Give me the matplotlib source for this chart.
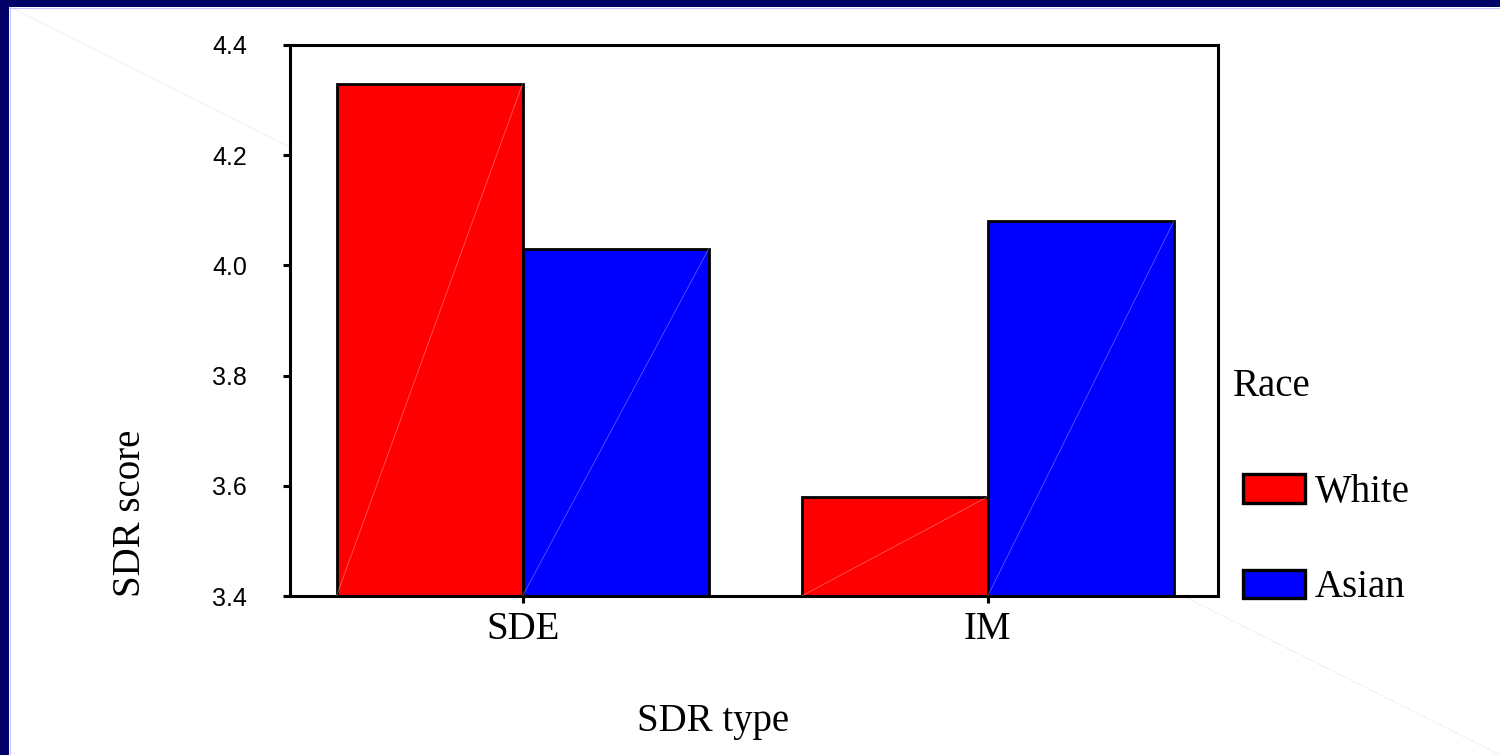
import numpy as np
import matplotlib
matplotlib.use("Agg")
import matplotlib.pyplot as plt
from matplotlib.lines import Line2D

# data
sdr_types = ["SDE", "IM"]
races = ["White", "Asian"]
white_scores = [4.33, 3.58]
asian_scores = [4.03, 4.08]
bar_colors = ["#ff0000", "#0000ff"]

SERIF = "Liberation Serif"
SANS = "Liberation Sans"
FS = 28

W, H = 1500, 755
fig = plt.figure(figsize=(W / 100, H / 100), dpi=100)
fig.patch.set_facecolor("white")

def fx(px):
    return px / W

def fy(py):
    return 1 - py / H

# navy slide frame on top and left edges
fig.patches.append(plt.Rectangle((0, 0), fx(9), 1, transform=fig.transFigure,
                                 facecolor="#000066", edgecolor="none", zorder=-5))
fig.patches.append(plt.Rectangle((0, fy(7)), 1, 7 / H, transform=fig.transFigure,
                                 facecolor="#000066", edgecolor="none", zorder=-5))
fig.lines.append(Line2D([fx(9.5), fx(9.5)], [0, fy(7)], transform=fig.transFigure,
                        color="#c8c8ff", lw=0.8, zorder=-4))
fig.lines.append(Line2D([fx(9), 1], [fy(7.5), fy(7.5)], transform=fig.transFigure,
                        color="#c8c8ff", lw=0.8, zorder=-4))
# faint background diagonal
fig.lines.append(Line2D([fx(10), 1], [fy(7), 0], transform=fig.transFigure,
                        color="#e4e4e4", lw=0.8, ls=(0, (1, 1)), zorder=-6))

ax = fig.add_axes([fx(290), fy(596), fx(1218) - fx(290), fy(45) - fy(596)])
ax.set_facecolor("white")

x = np.arange(len(sdr_types))
width = 0.4
ymin = 3.4
series = [white_scores, asian_scores]
for i, (vals, col, lab) in enumerate(zip(series, bar_colors, races)):
    left = x - width + i * width
    vals = np.array(vals)
    ax.bar(left, vals - ymin, width=width, bottom=ymin, align="edge",
           color=col, edgecolor="black", linewidth=2.0, label=lab, zorder=2)
    # faint rendering diagonal inside each bar
    for l, v in zip(left, vals):
        ax.plot([l, l + width], [ymin, v], color="white", alpha=0.35, lw=0.6, zorder=3)

ax.set_xlim(-0.5, 1.495)
ax.set_ylim(3.4, 4.4)
yt = np.arange(3.4, 4.41, 0.2)
ax.set_yticks(yt)
ax.set_yticklabels([f"{t:.1f}" for t in yt], family=SANS, fontsize=18)
ax.set_xticks(x)
ax.set_xticklabels(sdr_types, family=SERIF, fontsize=FS)
ax.tick_params(axis="y", direction="out", length=5, width=2.2, pad=26)
ax.tick_params(axis="x", direction="out", length=5, width=2.2, pad=6)
for s in ax.spines.values():
    s.set_linewidth(2.2)

fig.text(fx(140), fy(597), "SDR score", rotation=90, rotation_mode="anchor",
         ha="left", va="baseline", family=SERIF, fontsize=FS)
fig.text(fx(637), fy(731), "SDR type", ha="left", va="baseline", family=SERIF, fontsize=FS)
fig.text(fx(1233), fy(396), "Race", ha="left", va="baseline", family=SERIF, fontsize=FS)

leg = ax.legend(loc="upper left", bbox_to_anchor=(fx(1243), fy(474)),
                bbox_transform=fig.transFigure, frameon=False, borderpad=0,
                borderaxespad=0, handlelength=1.6, handleheight=0.75,
                handletextpad=0.25, labelspacing=1.5,
                prop={"family": SERIF, "size": FS})
for h in leg.legend_handles:
    h.set_linewidth(2.4)

fig.savefig("out.png", dpi=100)
